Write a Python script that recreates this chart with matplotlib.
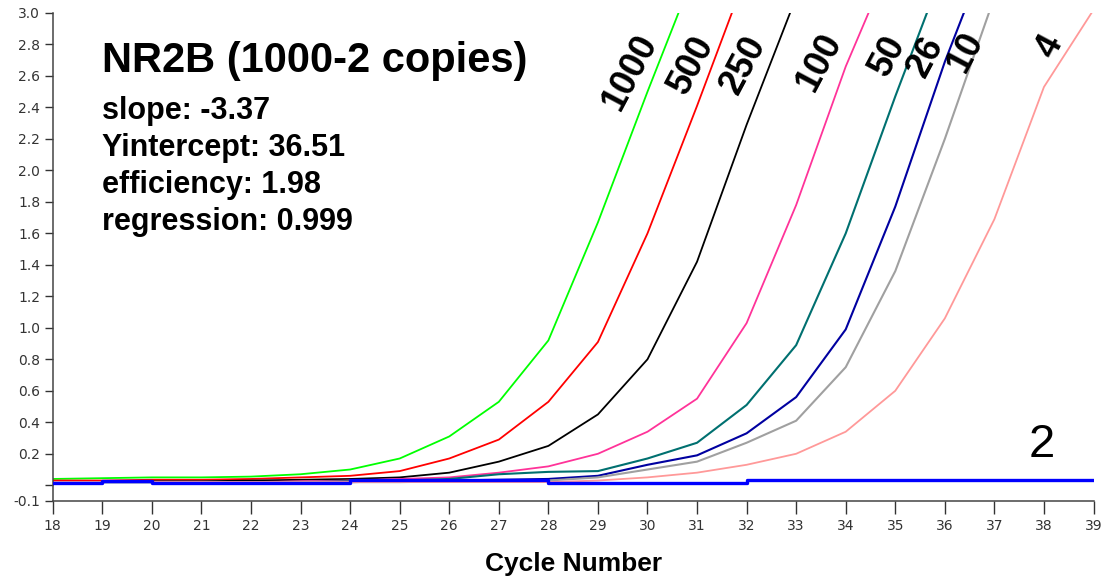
import matplotlib
matplotlib.use("Agg")
import matplotlib.pyplot as plt

# amplification curves, one value per cycle starting at cycle 18
start_cycle = 18

green_1000 = [0.04, 0.045, 0.05, 0.05, 0.055, 0.07, 0.10, 0.17, 0.31, 0.53, 0.92, 1.67, 2.50, 3.30]
red_500 = [0.03, 0.03, 0.035, 0.035, 0.04, 0.05, 0.06, 0.09, 0.17, 0.29, 0.53, 0.91, 1.60, 2.41, 3.25]
black_250 = [0.02, 0.02, 0.025, 0.025, 0.03, 0.035, 0.04, 0.05, 0.08, 0.15, 0.25, 0.45, 0.80, 1.42, 2.29, 3.10]
pink_100 = [0.02, 0.02, 0.02, 0.02, 0.02, 0.025, 0.03, 0.04, 0.05, 0.08, 0.12, 0.20, 0.34, 0.55, 1.03, 1.78, 2.66, 3.40]
teal_50 = [0.02, 0.02, 0.02, 0.02, 0.02, 0.02, 0.025, 0.03, 0.04, 0.07, 0.085, 0.09, 0.17, 0.27, 0.51, 0.89, 1.60, 2.47, 3.30]
navy_26 = [0.02, 0.02, 0.02, 0.02, 0.02, 0.02, 0.02, 0.025, 0.03, 0.035, 0.04, 0.06, 0.13, 0.19, 0.33, 0.56, 0.99, 1.77, 2.69, 3.50]
gray_10 = [0.02, 0.02, 0.02, 0.02, 0.02, 0.02, 0.02, 0.02, 0.025, 0.025, 0.03, 0.05, 0.10, 0.15, 0.27, 0.41, 0.75, 1.36, 2.20, 3.10]
salmon_4 = [0.02, 0.02, 0.02, 0.02, 0.02, 0.02, 0.02, 0.02, 0.02, 0.02, 0.02, 0.03, 0.05, 0.08, 0.13, 0.20, 0.34, 0.60, 1.06, 1.69, 2.53, 3.02]
blue_2 = [0.015, 0.03, 0.015, 0.015, 0.015, 0.015, 0.035, 0.035, 0.035, 0.035, 0.015, 0.015, 0.015, 0.015,
          0.035, 0.035, 0.035, 0.035, 0.035, 0.035, 0.035, 0.035]

curve_labels = ["1000", "500", "250", "100", "50", "26", "10", "4"]
y_ticks = [-0.1, 0.0, 0.2, 0.4, 0.6, 0.8, 1.0, 1.2, 1.4, 1.6, 1.8, 2.0, 2.2, 2.4, 2.6, 2.8, 3.0]
y_tick_labels = ["-0.1", ""] + ["%.1f" % v for v in y_ticks[2:]]
x_ticks = list(range(18, 40))

info_lines = ["slope: -3.37", "Yintercept: 36.51", "efficiency: 1.98", "regression: 0.999"]

W, H = 1102, 579
fig = plt.figure(figsize=(W / 100, H / 100), dpi=100)
ax = fig.add_axes([52.8 / W, (H - 501) / H, (1093.5 - 52.8) / W, (501 - 13) / H])


def cycles(vals):
    return list(range(start_cycle, start_cycle + len(vals)))


series = [
    (green_1000, "#00ff00", 1.3),
    (red_500, "#ff0000", 1.3),
    (black_250, "#000000", 1.3),
    (pink_100, "#ff3399", 1.3),
    (teal_50, "#007070", 1.5),
    (navy_26, "#0000a0", 1.5),
    (gray_10, "#a0a0a0", 1.5),
    (salmon_4, "#ff9999", 1.3),
]
for vals, col, lw in series:
    ax.plot(cycles(vals), vals, color=col, lw=lw)
ax.plot(cycles(blue_2), blue_2, color="#0000ff", lw=2.4, drawstyle="steps-post", zorder=5)

ax.set_xlim(18, 39)
ax.set_ylim(-0.1, 3.0)
ax.set_xticks(x_ticks)
ax.set_yticks(y_ticks)
ax.set_yticklabels(y_tick_labels)

for s in ["top", "right"]:
    ax.spines[s].set_visible(False)
for s in ["left", "bottom"]:
    ax.spines[s].set_color("#444444")
    ax.spines[s].set_linewidth(1.1)

ax.tick_params(axis="both", colors="#333333", labelsize=10, width=1)
ax.tick_params(axis="y", length=6, pad=3)
ax.tick_params(axis="x", length=9, pad=4)
for lab in ax.get_xticklabels() + ax.get_yticklabels():
    lab.set_family("DejaVu Sans")

ax.set_xlabel("Cycle Number", fontsize=19, fontweight="bold", family="Liberation Sans",
              labelpad=14)

# header text
fig.text(102 / W, 1 - 72 / H, "NR2B (1000-2 copies)", fontsize=30, fontweight="bold",
         family="Liberation Sans", va="baseline")
for i, line in enumerate(info_lines):
    fig.text(102 / W, 1 - (119 + 37 * i) / H, line, fontsize=22, fontweight="bold",
             family="Liberation Sans", va="baseline")

# curve labels
label_pos = [(630, 72), (692, 65), (744, 65), (820, 62), (888, 56), (926, 57), (966, 52), (1050, 47)]
for lab, (px, py) in zip(curve_labels, label_pos):
    fig.text(px / W, 1 - py / H, lab, fontsize=26, fontweight="bold", family="Liberation Sans",
             rotation=62, ha="center", va="center")

fig.text(1042 / W, 1 - 445 / H, "2", fontsize=34, family="Liberation Sans",
         ha="center", va="center")

fig.savefig("out.png", dpi=100)
